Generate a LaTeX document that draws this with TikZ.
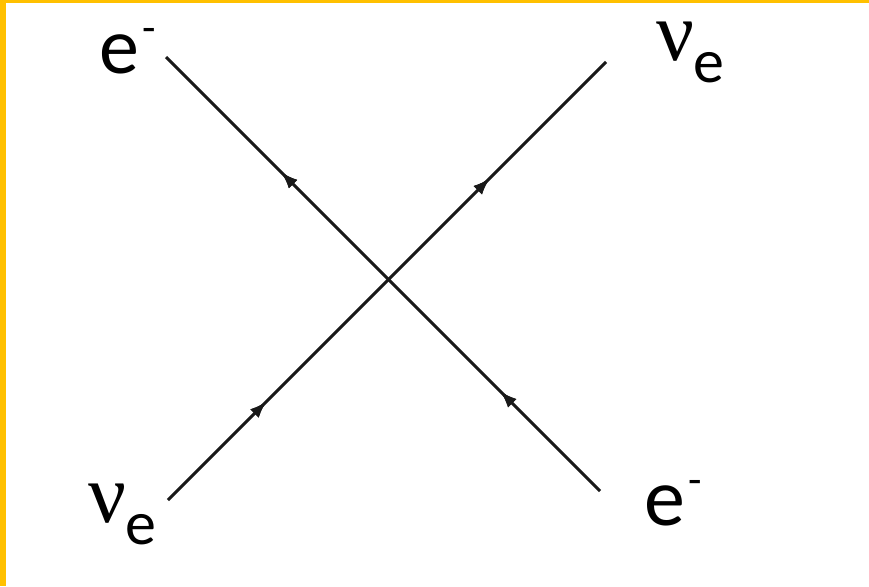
\documentclass[tikz,border=0pt]{standalone}
\usepackage{fontspec}
\setmainfont{Carlito}
\newfontfamily\greekfont{Liberation Serif}
\usetikzlibrary{arrows.meta,decorations.markings}
\definecolor{frameyellow}{HTML}{FFC000}
\tikzset{
  fermion/.style={draw=black!90, line width=3pt,
    postaction={decorate},
    decoration={markings,
      mark=at position #1 with {\arrow{Latex[length=17pt,width=12pt]}}}},
  lbl/.style={anchor=base west, inner sep=0pt, outer sep=0pt},
}
\newcommand{\elec}[1]{{\fontsize{#1}{#1}\selectfont e}\hspace{4pt}\raisebox{31pt}{\fontsize{44}{44}\selectfont -}}
\newcommand{\nue}{\smash{{\greekfont\fontsize{84}{84}\selectfont ν}\hspace{0pt}\raisebox{-22pt}{\fontsize{62}{62}\selectfont e}}}
\begin{document}
\begin{tikzpicture}[x=1pt,y=-1pt]
\useasboundingbox (0,0) rectangle (869,586);
\fill[white] (0,0) rectangle (869,586);
\fill[frameyellow] (0,0) rectangle (6,586);
\fill[frameyellow] (0,0) rectangle (869,3.5);
% end points
\coordinate (eA) at (600,491);
\coordinate (eB) at (166,57);
\coordinate (nA) at (168,500);
\coordinate (nB) at (606,62);
% electron line (flow from bottom right to top left)
\draw[fermion/.list={0.23,0.735}] (eA) -- (eB);
% neutrino line (flow from bottom left to top right)
\draw[fermion/.list={0.225,0.735}] (nA) -- (nB);
% labels
\node[lbl] (lTL) at (99,74) {\smash{\elec{80}}};
\node[lbl] (lBR) at (644,525) {\smash{\elec{82}}};
\node[lbl] (lTR) at (656,60) {\nue};
\node[lbl] (lBL) at (88,522) {\nue};
\end{tikzpicture}
\end{document}
